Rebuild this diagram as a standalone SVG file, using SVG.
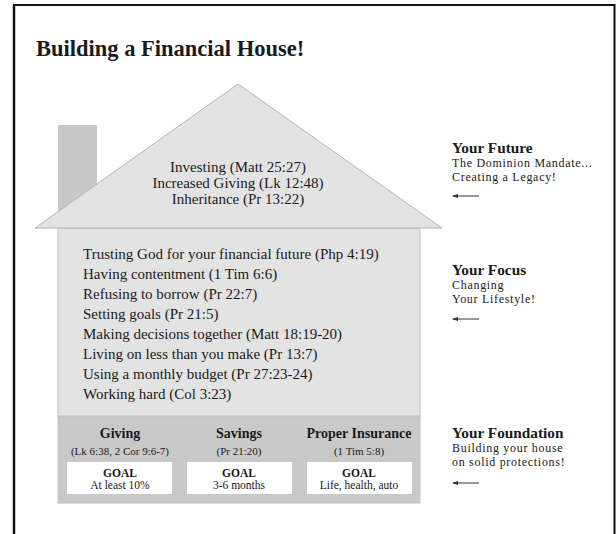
<svg xmlns="http://www.w3.org/2000/svg" width="616" height="534" viewBox="0 0 616 534">
  <style>
    text { font-family: "Liberation Serif", "DejaVu Serif", serif; fill: #1a1a1a; }
    .title { font-size: 22.5px; font-weight: bold; }
    .roof-txt { font-size: 15px; text-anchor: middle; }
    .body-txt { font-size: 15px; }
    .head { font-size: 14px; font-weight: bold; text-anchor: middle; }
    .ref { font-size: 11px; text-anchor: middle; }
    .goal { font-size: 11.5px; font-weight: bold; text-anchor: middle; }
    .goal-v { font-size: 11.5px; text-anchor: middle; }
    .side-h { font-size: 15.3px; font-weight: bold; }
    .side-t { font-size: 12px; letter-spacing: 0.7px; }
    .box { fill: #ffffff; }
    .arrow { stroke: #333; stroke-width: 1; fill: none; marker-start: url(#head); }
  </style>
  <defs>
    <marker id="head" viewBox="0 0 6 6" refX="1" refY="3" markerWidth="6" markerHeight="6" markerUnits="userSpaceOnUse" orient="auto">
      <path d="M6,1 L0,3 L6,5 Z" fill="#333"/>
    </marker>
  </defs>

  <rect width="616" height="534" fill="#ffffff"/>
  <!-- page frame, open at the bottom -->
  <path d="M14,534 V5 H614.5 V534" fill="none" stroke="#111" stroke-width="2"/>
  <path d="M14,534 V5" stroke="#111" stroke-width="2.5"/>

  <g id="title">
    <text class="title" x="36" y="56">Building a Financial House!</text>
  </g>

  <g id="chimney">
    <rect x="58" y="125" width="39" height="90" fill="#c8c8c8"/>
  </g>

  <g id="roof">
    <polygon points="238,84 442,228 35,228" fill="#e3e3e3" stroke="#b4b4b4" stroke-width="1"/>
    <text class="roof-txt" x="238" y="172">Investing (Matt 25:27)</text>
    <text class="roof-txt" x="238" y="188">Increased Giving (Lk 12:48)</text>
    <text class="roof-txt" x="238" y="204">Inheritance (Pr 13:22)</text>
  </g>

  <g id="lifestyle">
    <rect x="58" y="228.5" width="362" height="188" fill="#e3e3e3" stroke="#c2c2c2" stroke-width="1"/>
    <text class="body-txt" x="83" y="259">Trusting God for your financial future (Php 4:19)</text>
    <text class="body-txt" x="83" y="279">Having contentment (1 Tim 6:6)</text>
    <text class="body-txt" x="83" y="299">Refusing to borrow (Pr 22:7)</text>
    <text class="body-txt" x="83" y="319">Setting goals (Pr 21:5)</text>
    <text class="body-txt" x="83" y="339">Making decisions together (Matt 18:19-20)</text>
    <text class="body-txt" x="83" y="359">Living on less than you make (Pr 13:7)</text>
    <text class="body-txt" x="83" y="379">Using a monthly budget (Pr 27:23-24)</text>
    <text class="body-txt" x="83" y="399">Working hard (Col 3:23)</text>
  </g>

  <g id="foundation">
    <rect x="58" y="416" width="362" height="87" fill="#c9c9c9" stroke="#c2c2c2" stroke-width="1"/>
  </g>

  <g id="giving">
    <text class="head" x="120" y="438">Giving</text>
    <text class="ref" x="120" y="455">(Lk 6:38, 2 Cor 9:6-7)</text>
    <rect class="box" x="67" y="462" width="105" height="32"/>
    <text class="goal" x="120" y="477">GOAL</text>
    <text class="goal-v" x="120" y="489">At least 10%</text>
  </g>

  <g id="savings">
    <text class="head" x="239" y="438">Savings</text>
    <text class="ref" x="239" y="455">(Pr 21:20)</text>
    <rect class="box" x="187" y="462" width="105" height="32"/>
    <text class="goal" x="239" y="477">GOAL</text>
    <text class="goal-v" x="239" y="489">3-6 months</text>
  </g>

  <g id="insurance">
    <text class="head" x="359" y="438">Proper Insurance</text>
    <text class="ref" x="359" y="455">(1 Tim 5:8)</text>
    <rect class="box" x="307" y="462" width="105" height="32"/>
    <text class="goal" x="359" y="477">GOAL</text>
    <text class="goal-v" x="359" y="489">Life, health, auto</text>
  </g>

  <g id="label-future">
    <text class="side-h" x="452" y="153">Your Future</text>
    <text class="side-t" x="452" y="167">The Dominion Mandate...</text>
    <text class="side-t" x="452" y="180.5">Creating a Legacy!</text>
  </g>

  <g id="label-focus">
    <text class="side-h" x="452" y="275">Your Focus</text>
    <text class="side-t" x="452" y="289">Changing</text>
    <text class="side-t" x="452" y="302.5">Your Lifestyle!</text>
  </g>

  <g id="label-foundation">
    <text class="side-h" x="452" y="438">Your Foundation</text>
    <text class="side-t" x="452" y="452">Building your house</text>
    <text class="side-t" x="452" y="465.5">on solid protections!</text>
  </g>

  <g id="connectors">
    <line class="arrow" x1="453" y1="196" x2="479" y2="196"/>
    <line class="arrow" x1="453" y1="319" x2="479" y2="319"/>
    <line class="arrow" x1="453" y1="483" x2="479" y2="483"/>
  </g>
</svg>
